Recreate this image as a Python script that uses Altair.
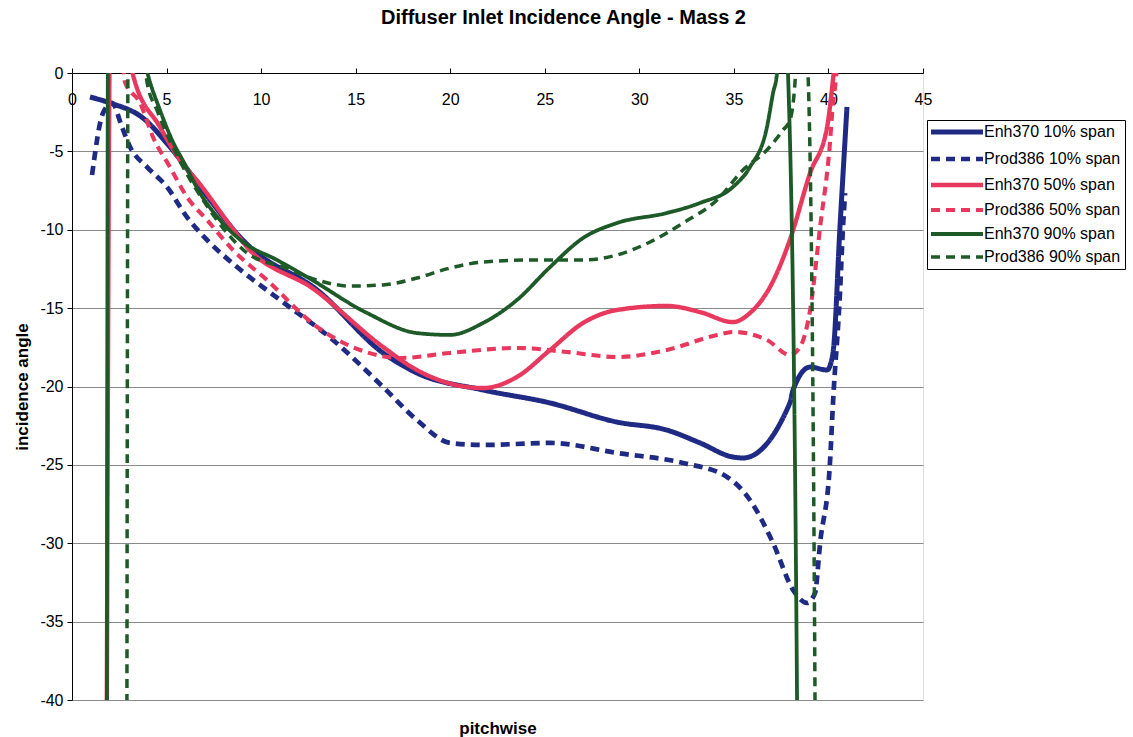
import altair as alt
import pandas as pd

# Pitchwise incidence-angle traverses at the diffuser inlet (mass flow 2).
# Points above 0 or below -40 run off the plot and are clipped, as the
# measured curves do at the vane edges.
series_names = [
    "Enh370 10% span",
    "Prod386 10% span",
    "Enh370 50% span",
    "Prod386 50% span",
    "Enh370 90% span",
    "Prod386 90% span",
]

enh10_x = [0.95, 2.01, 3.75, 5.18, 7.30, 8.88, 9.41, 12.96, 16.45, 18.24, 21.73, 25.28,
           28.82, 31.46, 33.21, 34.95, 35.48, 37.96, 38.13, 39.03, 39.93, 40.24, 40.61, 40.98]
enh10_y = [-1.53, -1.91, -2.87, -4.72, -8.10, -10.46, -11.10, -13.84, -17.86, -19.14, -20.22, -21.05,
           -22.27, -22.78, -23.60, -24.50, -24.56, -21.05, -20.22, -18.76, -18.95, -17.86, -9.82, -2.17]

prod10_x = [1.06, 1.64, 2.12, 2.64, 3.07, 3.97, 5.02, 6.08, 7.14, 8.73, 11.00, 13.80, 16.45, 18.24,
            19.99, 21.73, 25.28, 28.82, 32.31, 34.64, 35.85, 37.07, 38.13, 38.87, 39.29, 39.56,
            40.08, 40.24, 40.61, 40.77, 40.88]
prod10_y = [-6.51, -2.55, -1.91, -3.44, -4.72, -6.00, -7.27, -9.19, -10.65, -12.38, -14.48, -17.03,
            -20.03, -22.14, -23.60, -23.73, -23.60, -24.24, -24.88, -25.77, -27.24, -29.98, -32.98,
            -33.81, -33.17, -29.98, -24.88, -21.05, -14.04, -9.82, -7.66]

enh50_x = [1.83, 2.02, 3.10, 3.23, 4.65, 5.71, 6.77, 8.20, 9.25, 12.80, 16.45, 18.24, 21.73, 23.53,
           25.28, 27.02, 28.82, 31.46, 33.21, 34.95, 35.85, 36.91, 37.96, 39.03, 39.93, 40.24, 40.45]
enh50_y = [-45.0, 3.0, 1.0, -0.13, -3.44, -5.55, -7.10, -9.45, -11.10, -13.80, -17.48, -18.95, -20.10,
           -19.39, -17.67, -15.95, -15.12, -14.86, -15.25, -15.89, -15.31, -13.65, -10.65, -6.38,
           -3.44, -0.45, 2.0]

prod50_x = [2.70, 2.80, 3.60, 4.28, 5.18, 6.08, 7.14, 8.51, 10.31, 12.96, 15.23, 17.35, 19.99, 23.53,
            26.18, 28.82, 31.46, 34.11, 34.95, 36.75, 37.96, 38.50, 39.03, 39.56, 40.08, 40.24,
            40.35, 40.50]
prod50_y = [0.5, -0.57, -1.91, -4.08, -6.00, -7.91, -9.38, -11.29, -13.21, -16.20, -17.67, -18.18,
            -17.86, -17.54, -17.80, -18.12, -17.67, -16.71, -16.52, -17.03, -17.99, -17.48, -15.12,
            -9.82, -4.47, -1.91, -0.89, 1.0]

enh90_x = [1.84, 1.91, 3.70, 4.02, 4.65, 5.34, 5.87, 6.77, 7.83, 9.04, 10.84, 12.43, 15.60, 18.24,
           19.99, 21.73, 23.53, 25.28, 27.02, 28.82, 31.46, 33.21, 34.95, 35.85, 36.75, 37.07,
           37.28, 37.45, 37.70, 37.86, 38.34, 38.37]
enh90_y = [-45.0, 3.0, 1.5, -0.13, -2.36, -4.40, -5.60, -7.66, -9.38, -10.78, -11.93, -13.01, -15.31,
           -16.59, -16.71, -15.95, -14.48, -12.38, -10.53, -9.57, -8.93, -8.29, -7.27, -6.00, -3.44,
           -1.28, 0.0, 3.0, 3.0, 0.0, -40.0, -45.0]

prod90_x = [2.90, 2.97, 3.60, 3.85, 3.97, 4.49, 5.87, 6.93, 8.20, 9.25, 11.16, 12.96, 14.70, 16.45,
            18.24, 19.99, 21.73, 24.38, 27.02, 28.82, 30.57, 32.31, 34.11, 35.48, 36.75, 37.60,
            37.97, 38.23, 38.40, 38.75, 38.92, 39.29, 39.30]
prod90_y = [-45.0, 3.0, 2.0, 0.3, -0.6, -2.36, -6.00, -8.10, -10.21, -11.48, -12.38, -13.21, -13.59,
            -13.52, -13.08, -12.44, -12.06, -11.93, -11.93, -11.61, -10.78, -9.57, -8.10, -6.19,
            -4.91, -3.64, -3.00, -0.64, 3.0, 3.0, 0.0, -40.0, -45.0]

series_x = [enh10_x, prod10_x, enh50_x, prod50_x, enh90_x, prod90_x]
series_y = [enh10_y, prod10_y, enh50_y, prod50_y, enh90_y, prod90_y]

line_colors = ["#1F2A84", "#1F2A84", "#E8385E", "#E8385E", "#1E5A28", "#1E5A28"]
line_dashes = [[1, 0], [9, 6], [1, 0], [9, 6], [1, 0], [9, 6]]
line_widths = [5, 3.5, 4, 3.5, 5, 3.5]

rows = []
for name, xs, ys in zip(series_names, series_x, series_y):
    for i, (xv, yv) in enumerate(zip(xs, ys)):
        rows.append({"series": name, "pitch": xv, "incidence": yv, "idx": i})
df = pd.DataFrame(rows)

FONT = "Liberation Sans"
W, H = 851, 627

x_scale = alt.Scale(domain=[0, 45], nice=False, zero=False)
y_scale = alt.Scale(domain=[-40, 0], nice=False, zero=False)

# legend key: a 52 px horizontal stroke drawn from a small custom path so
# that the rows stay compact
legend = alt.Legend(
    title=None,
    orient="none",
    legendX=855,
    legendY=47,
    symbolType="M-5,0H5",
    symbolSize=108,
    symbolOffset=18,
    labelFont=FONT,
    labelFontSize=16,
    labelColor="black",
    labelOffset=19,
    strokeColor="black",
    padding=4,
    rowPadding=7,
)

lines = alt.Chart(df).mark_line(interpolate="monotone", clip=True).encode(
    x=alt.X(
        "pitch:Q",
        scale=x_scale,
        axis=alt.Axis(
            orient="top",
            title=None,
            values=[0, 5, 10, 15, 20, 25, 30, 35, 40, 45],
            grid=False,
            labelFlush=False,
            labelFont=FONT,
            labelFontSize=16,
            labelColor="black",
            labelBaseline="middle",
            labelPadding=-31,
            tickSize=5,
            tickColor="black",
            domainColor="black",
            labelOverlap=False,
        ),
    ),
    y=alt.Y(
        "incidence:Q",
        scale=y_scale,
        axis=alt.Axis(
            title="incidence angle",
            titleFont=FONT,
            titleFontSize=17,
            titleFontWeight="bold",
            titleColor="black",
            titlePadding=8,
            values=[0, -5, -10, -15, -20, -25, -30, -35, -40],
            labelExpr="toString(datum.value)",
            grid=True,
            gridColor="#8a8a8a",
            gridWidth=1,
            labelFont=FONT,
            labelFontSize=16,
            labelColor="black",
            labelPadding=4,
            tickSize=5,
            tickColor="black",
            domainColor="black",
            labelOverlap=False,
        ),
    ),
    color=alt.Color("series:N", scale=alt.Scale(domain=series_names, range=line_colors), legend=legend),
    strokeDash=alt.StrokeDash("series:N", scale=alt.Scale(domain=series_names, range=line_dashes), legend=legend),
    strokeWidth=alt.StrokeWidth("series:N", scale=alt.Scale(domain=series_names, range=line_widths), legend=legend),
    order="idx:Q",
)

# invisible layer that carries the bottom "pitchwise" axis title
x_title = alt.Chart(df).mark_point(opacity=0).encode(
    x=alt.X(
        "pitch:Q",
        scale=x_scale,
        axis=alt.Axis(
            orient="bottom",
            title="pitchwise",
            titleFont=FONT,
            titleFontSize=17,
            titleFontWeight="bold",
            titleColor="black",
            titlePadding=20,
            labels=False,
            ticks=False,
            domain=False,
            grid=False,
        ),
    ),
)

chart = (
    alt.layer(lines, x_title)
    .resolve_axis(x="independent")
    .properties(
        width=W,
        height=H,
        title=alt.TitleParams(
            "Diffuser Inlet Incidence Angle - Mass 2",
            font=FONT,
            fontSize=20,
            fontWeight="bold",
            color="black",
            anchor="middle",
            dx=66,
            offset=37,
        ),
        autosize=alt.AutoSizeParams(type="none"),
        padding={"left": 72, "top": 73, "right": 210, "bottom": 37},
    )
    .configure_view(stroke="#8a8a8a", strokeWidth=1)
    .configure(background="white")
)

chart.save("out.html", embed_options={"renderer": "svg", "actions": False})
